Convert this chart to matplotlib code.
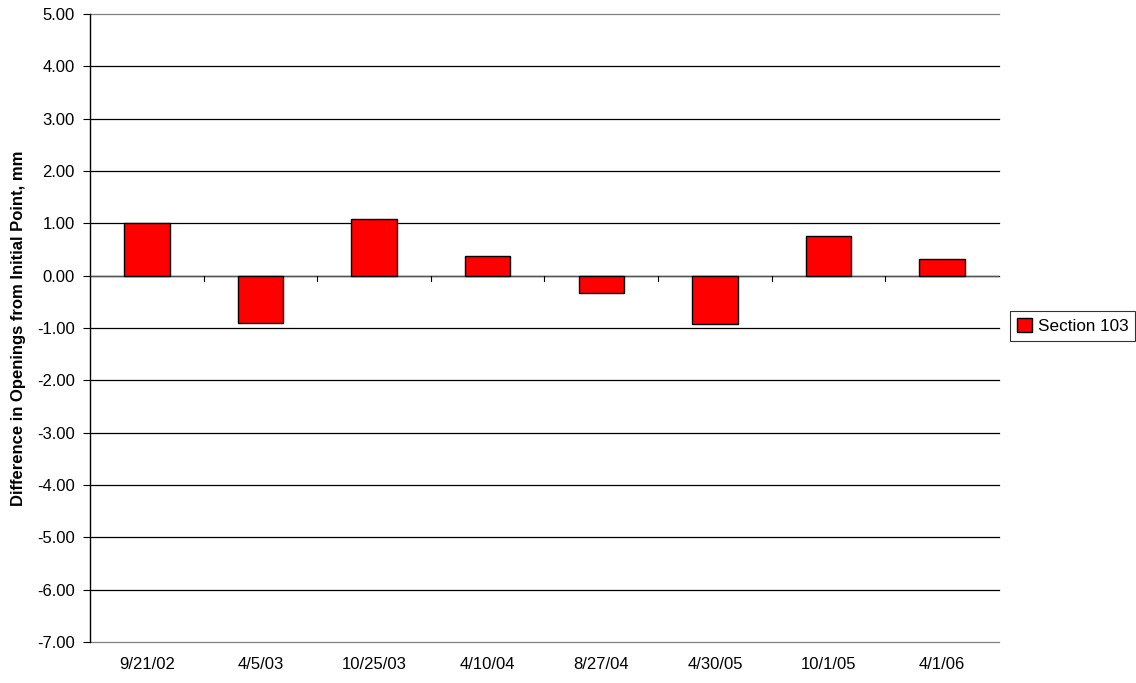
import matplotlib
matplotlib.use("Agg")
import matplotlib.pyplot as plt
import numpy as np
from matplotlib.patches import Patch

plt.rcParams['font.family'] = ['Liberation Sans', 'DejaVu Sans']

dates = ["9/21/02", "4/5/03", "10/25/03", "4/10/04", "8/27/04", "4/30/05", "10/1/05", "4/1/06"]
section_103 = [1.00, -0.91, 1.09, 0.37, -0.33, -0.92, 0.75, 0.31]
y_ticks = np.arange(-7, 5.01, 1.0)

fig = plt.figure(figsize=(11.36, 6.83), dpi=100)
ax = fig.add_axes([0.0792, 0.060, 0.8002, 0.9195])

x = np.arange(len(dates))
ax.bar(x, section_103, width=0.4, color="#FF0000", edgecolor="black", linewidth=1.0, zorder=3)

ax.set_xlim(-0.5, len(dates) - 0.5)
ax.set_ylim(-7, 5)
ax.set_yticks(y_ticks)
ax.set_yticklabels([f"{v:.2f}" for v in y_ticks], fontsize=12)

# horizontal gridlines, including the top and bottom edges
for v in y_ticks:
    ax.axhline(v, color="black" if -7 < v < 5 else "#808080", linewidth=0.9,
               zorder=0, clip_on=False)

for s in ["top", "right", "bottom"]:
    ax.spines[s].set_visible(False)
ax.spines["left"].set_color("black")
ax.spines["left"].set_linewidth(1.0)
ax.spines["left"].set_zorder(4)
ax.tick_params(axis="y", length=5, width=0.8, pad=6)

# category axis crosses at zero with ticks between categories
ax.axhline(0, color="#555555", linewidth=1.0, zorder=2)
for b in np.arange(0.5, len(dates) - 0.5, 1.0):
    ax.plot([b, b], [0, -0.1], color="black", linewidth=0.8, zorder=2, clip_on=False)
ax.tick_params(axis="x", length=0, pad=11)
ax.set_xticks(x)
ax.set_xticklabels(dates, fontsize=12)

ax.set_ylabel("Difference in Openings from Initial Point, mm", fontsize=12,
              fontweight="bold", labelpad=8)

handles = [Patch(facecolor="#FF0000", edgecolor="black", label="Section 103")]
leg = fig.legend(handles=handles, loc="center left", bbox_to_anchor=(0.889, 0.523),
                 fontsize=12.3, frameon=True, fancybox=False, edgecolor="black",
                 handlelength=0.85, handleheight=0.85, handletextpad=0.35, borderpad=0.42,
                 borderaxespad=0)
leg.get_frame().set_linewidth(0.8)

fig.savefig("out.png", dpi=100, facecolor="white")
